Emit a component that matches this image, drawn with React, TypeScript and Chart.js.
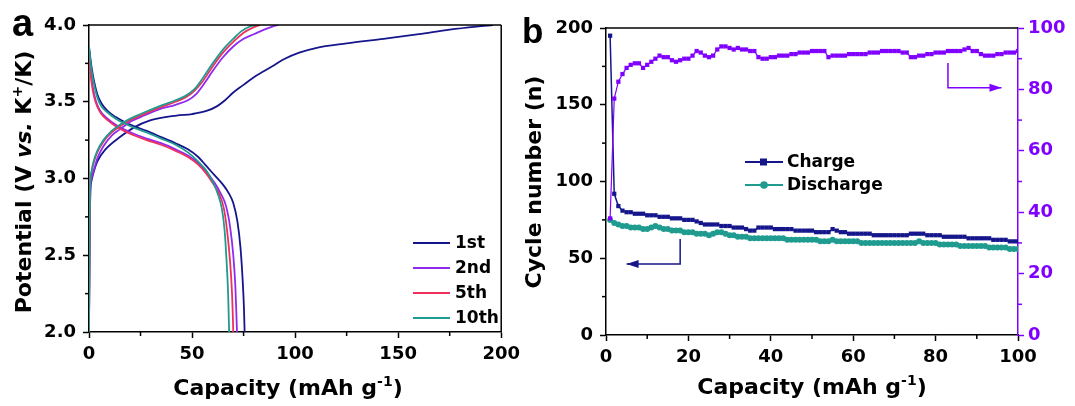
import React, { useEffect, useRef } from "react";
import { Chart, registerables } from "chart.js";
Chart.register(...registerables);

const FONT = '"DejaVu Sans", "Liberation Sans", sans-serif';
const LETTER_FONT = '"Liberation Sans", Arial, sans-serif';
const NAVY = "#16168c";
const VIOLET = "#8f2bf0";
const RED = "#f0305c";
const TEAL = "#1f9b8f";
const PURPLE = "#8000ff";

// ---------- Panel a: voltage profiles (capacity, potential) ----------
const legendA = ["1st", "2nd", "5th", "10th"];
const charge1st: [number, number][] = [[0,2.0],[0.3,2.55],[0.6,2.9],[1,2.97],[2,3.03],[4,3.11],[8,3.19],[15,3.27],[21.5,3.33],[30,3.38],[42.5,3.41],[50,3.42],[57,3.44],[62,3.47],[66,3.51],[70,3.56],[75,3.61],[80,3.66],[85,3.7],[90,3.74],[95,3.78],[102,3.82],[110,3.85],[125,3.88],[143,3.91],[160,3.94],[175,3.97],[188,3.99],[196,4.0]];
const charge2nd: [number, number][] = [[0,2.0],[0.3,2.6],[0.7,2.93],[1.2,3.0],[2.5,3.06],[4,3.13],[7,3.21],[11,3.28],[15,3.32],[20,3.37],[25,3.4],[34,3.45],[42,3.48],[48,3.51],[52,3.55],[56,3.62],[60,3.7],[65,3.79],[70,3.86],[75,3.91],[80,3.94],[85,3.97],[89,3.99],[92,4.0]];
const charge5th: [number, number][] = [[0,2.0],[0.3,2.7],[0.6,2.97],[1,3.02],[2,3.09],[4,3.17],[7,3.24],[11,3.3],[15,3.34],[20,3.38],[25,3.41],[34,3.46],[42,3.5],[47,3.53],[51,3.57],[55,3.63],[60,3.73],[65,3.82],[70,3.89],[75,3.95],[79,3.98],[83,4.0]];
const charge10th: [number, number][] = [[0,2.0],[0.3,2.7],[0.6,2.98],[1,3.03],[2,3.1],[4,3.18],[7,3.25],[11,3.31],[15,3.35],[20,3.39],[25,3.42],[34,3.47],[42,3.51],[47,3.54],[51,3.58],[55,3.65],[60,3.75],[65,3.84],[70,3.91],[74,3.96],[78,3.99],[81,4.0]];
const discharge1st: [number, number][] = [[0,3.86],[0.5,3.8],[1.3,3.72],[2.5,3.63],[4,3.55],[6,3.49],[9,3.44],[13,3.4],[17,3.37],[22,3.34],[28,3.31],[35,3.27],[42,3.23],[48,3.19],[53,3.14],[57,3.08],[61,3.02],[65,2.96],[68,2.9],[70,2.84],[72,2.72],[73.5,2.55],[74.5,2.35],[75.2,2.15],[75.5,2.0]];
const discharge2nd: [number, number][] = [[0,3.84],[0.5,3.75],[1.2,3.65],[2.5,3.55],[4,3.48],[6,3.43],[9,3.39],[13,3.35],[17,3.32],[22,3.29],[28,3.26],[35,3.23],[42,3.19],[48,3.15],[53,3.1],[57,3.04],[61,2.97],[64,2.9],[66.5,2.82],[68.5,2.68],[70,2.5],[71,2.3],[71.5,2.12],[71.8,2.0]];
const discharge5th: [number, number][] = [[0,3.82],[0.5,3.73],[1.2,3.63],[2.5,3.53],[4,3.47],[6,3.42],[9,3.38],[13,3.34],[17,3.31],[22,3.28],[28,3.25],[35,3.22],[42,3.18],[48,3.14],[53,3.09],[57,3.03],[60.5,2.96],[63.5,2.89],[65.5,2.8],[67,2.66],[68.5,2.45],[69.4,2.25],[69.8,2.1],[70,2.0]];
const discharge10th: [number, number][] = [[0,3.86],[0.5,3.79],[1.3,3.7],[2.5,3.61],[4,3.53],[6,3.47],[9,3.43],[13,3.39],[17,3.36],[22,3.33],[28,3.3],[35,3.26],[42,3.22],[48,3.17],[53,3.11],[57,3.05],[60,2.98],[62.5,2.9],[64.5,2.8],[65.8,2.66],[66.8,2.45],[67.5,2.25],[67.8,2.1],[68,2.0]];
const aXTicks = [0, 50, 100, 150, 200];
const aXMinor = [25, 75, 125, 175];
const aYMinor = [2.25, 2.75, 3.25, 3.75];

// ---------- Panel b: cycling ----------
const cycleCount = 100;
const chargeCap = [195,92,84,81,80,80,79,79,79,78,
 78,78,77,77,77,76,76,76,75,75,
 75,74,73,72,72,72,72,71,71,71,
 70,70,70,69,68,68,70,70,70,70,
 69,69,69,69,69,68,68,68,68,68,
 67,67,67,67,69,68,67,67,66,66,
 66,66,66,66,65,65,65,65,65,65,
 65,65,65,66,66,66,66,65,65,65,
 65,64,64,64,64,64,64,63,63,63,
 63,63,63,62,62,62,62,61,61,61];
const dischargeCap = [75,73,72,71,71,70,70,70,69,69,
 70,71,70,69,69,68,68,68,67,67,
 67,66,66,66,65,66,67,67,66,65,
 65,64,64,64,63,63,63,63,63,63,
 63,63,63,62,62,62,62,62,62,62,
 62,61,61,61,62,61,61,61,61,61,
 61,60,60,60,60,60,60,60,60,60,
 60,60,60,60,60,61,60,60,60,60,
 59,59,59,59,59,58,58,58,58,58,
 58,58,57,57,57,57,57,56,56,56];
const efficiency = [38,77,82.5,85,87,88,88.5,88.5,87,88,
 89,90,91,90.5,90.5,89.5,89,89.5,90,90,
 91,92.5,92,91,90.5,91,93,94,94,93.5,
 93,93.5,93,93,92.5,92.5,90.5,90,90,90.5,
 90.5,91,91,91,91.5,91.5,92,92,92,92.5,
 92.5,92.5,92.5,90.5,91,91,91,91,91.5,91.5,
 91.5,91.5,91.5,92,92,92,92.5,92.5,92.5,92.5,
 92.5,92,92,90.5,90.5,91,91,91.5,91.5,92,
 92,92,92.5,92.5,92.5,92.5,93,93.5,92.5,92.5,
 91.5,91,91,91,91.5,91.5,92,92,92,92.5];
const legendB = ["Charge", "Discharge"];
const bXMinor = [10, 30, 50, 70, 90];
const bYMinor = [25, 75, 125, 175];
const bY2Minor = [10, 30, 50, 70, 90];

type Seg = { t: string; it?: boolean; sup?: boolean };

function drawRich(ctx: CanvasRenderingContext2D, segs: Seg[], cx: number, baseline: number, size: number, color: string, rotate: boolean) {
  ctx.save();
  ctx.translate(cx, baseline);
  if (rotate) ctx.rotate(-Math.PI / 2);
  const fontFor = (s: Seg) => `${s.it ? "italic " : ""}bold ${s.sup ? Math.round(size * 0.62) : size}px ${FONT}`;
  let total = 0;
  const widths = segs.map((s) => {
    ctx.font = fontFor(s);
    const w = ctx.measureText(s.t).width;
    total += w;
    return w;
  });
  let x = -total / 2;
  ctx.fillStyle = color;
  ctx.textBaseline = "alphabetic";
  ctx.textAlign = "left";
  segs.forEach((s, i) => {
    ctx.font = fontFor(s);
    ctx.fillText(s.t, x, s.sup ? -size * 0.42 : 0);
    x += widths[i];
  });
  ctx.restore();
}

function tickLine(ctx: CanvasRenderingContext2D, x1: number, y1: number, x2: number, y2: number, color: string, w = 1.5) {
  ctx.strokeStyle = color;
  ctx.lineWidth = w;
  ctx.beginPath();
  ctx.moveTo(x1, y1);
  ctx.lineTo(x2, y2);
  ctx.stroke();
}

const toXY = (arr: [number, number][]) => arr.map(([x, y]) => ({ x, y }));

function axisCommon(color = "#000") {
  return {
    border: { display: true, color, width: 1.5 },
    grid: { drawOnChartArea: false, drawTicks: true, tickLength: 6, tickColor: color, tickWidth: 1.5, color },
    ticks: { color, font: { family: FONT, size: 18, weight: "bold" as const }, autoSkip: false, maxRotation: 0, padding: 6 },
  };
}

const panelAPlugin = {
  id: "panelA",
  afterDraw(chart: any) {
    const { ctx, chartArea: ca, scales } = chart;
    const xs = scales.x, ys = scales.y;
    ctx.save();
    tickLine(ctx, ca.left, ca.top, ca.right, ca.top, "#000");
    tickLine(ctx, ca.right, ca.top, ca.right, ca.bottom, "#000");
    for (const v of aXMinor) {
      const px = xs.getPixelForValue(v);
      tickLine(ctx, px, ca.bottom, px, ca.bottom + 4, "#000");
    }
    for (const v of aYMinor) {
      const py = ys.getPixelForValue(v);
      tickLine(ctx, ca.left - 4, py, ca.left, py, "#000");
    }
    // legend
    const colors = [NAVY, VIOLET, RED, TEAL];
    legendA.forEach((lab, i) => {
      const y = 243 + i * 25;
      tickLine(ctx, 413, y, 450, y, colors[i], 2);
      ctx.fillStyle = "#000";
      ctx.font = `bold 17px ${FONT}`;
      ctx.textBaseline = "middle";
      ctx.textAlign = "left";
      ctx.fillText(lab, 455, y + 1);
    });
    // titles
    drawRich(ctx, [{ t: "Capacity (mAh g" }, { t: "-1", sup: true }, { t: ")" }], 288, 395, 22, "#000", false);
    drawRich(ctx, [{ t: "Potential (V " }, { t: "vs.", it: true }, { t: " K" }, { t: "+", sup: true }, { t: "/K)" }], 31, 182, 22, "#000", true);
    ctx.fillStyle = "#000";
    ctx.font = `bold 38px ${LETTER_FONT}`;
    ctx.textAlign = "left";
    ctx.textBaseline = "alphabetic";
    ctx.fillText("a", 12, 36);
    ctx.restore();
  },
};

function drawArrow(ctx: CanvasRenderingContext2D, pts: number[][], color: string, dir: number) {
  ctx.strokeStyle = color;
  ctx.fillStyle = color;
  ctx.lineWidth = 1.5;
  ctx.beginPath();
  ctx.moveTo(pts[0][0], pts[0][1]);
  for (let i = 1; i < pts.length; i++) ctx.lineTo(pts[i][0], pts[i][1]);
  ctx.stroke();
  const [ex, ey] = pts[pts.length - 1];
  ctx.beginPath();
  ctx.moveTo(ex, ey);
  ctx.lineTo(ex - dir * 12, ey - 4);
  ctx.lineTo(ex - dir * 12, ey + 4);
  ctx.closePath();
  ctx.fill();
}

const panelBPlugin = {
  id: "panelB",
  afterDraw(chart: any) {
    const { ctx, chartArea: ca, scales } = chart;
    const xs = scales.x, ys = scales.y, y2 = scales.y2;
    ctx.save();
    tickLine(ctx, ca.left, ca.top, ca.right, ca.top, "#000");
    for (const v of bXMinor) {
      const px = xs.getPixelForValue(v);
      tickLine(ctx, px, ca.bottom, px, ca.bottom + 4, "#000");
    }
    for (const v of bYMinor) {
      const py = ys.getPixelForValue(v);
      tickLine(ctx, ca.left - 4, py, ca.left, py, "#000");
    }
    for (const v of bY2Minor) {
      const py = y2.getPixelForValue(v);
      tickLine(ctx, ca.right, py, ca.right + 4, py, PURPLE);
    }
    // arrows
    drawArrow(ctx, [[xs.getPixelForValue(83), y2.getPixelForValue(88.6)], [xs.getPixelForValue(83), y2.getPixelForValue(80.5)], [xs.getPixelForValue(96), y2.getPixelForValue(80.5)]], PURPLE, 1);
    drawArrow(ctx, [[xs.getPixelForValue(18), ys.getPixelForValue(62.5)], [xs.getPixelForValue(18), ys.getPixelForValue(46.3)], [xs.getPixelForValue(5), ys.getPixelForValue(46.3)]], NAVY, -1);
    // legend
    const colors = [NAVY, TEAL];
    legendB.forEach((lab, i) => {
      const y = 162 + i * 23;
      tickLine(ctx, 225, y, 263, y, colors[i], 2);
      ctx.fillStyle = colors[i];
      if (i === 0) ctx.fillRect(240, y - 3.5, 7, 7);
      else { ctx.beginPath(); ctx.arc(244, y, 3.8, 0, Math.PI * 2); ctx.fill(); }
      ctx.fillStyle = "#000";
      ctx.font = `bold 17px ${FONT}`;
      ctx.textBaseline = "middle";
      ctx.textAlign = "left";
      ctx.fillText(lab, 267, y + 1);
    });
    drawRich(ctx, [{ t: "Capacity (mAh g" }, { t: "-1", sup: true }, { t: ")" }], 292, 394, 22, "#000", false);
    drawRich(ctx, [{ t: "Cycle number (n)" }], 21, 182, 22, "#000", true);
    ctx.fillStyle = "#000";
    ctx.font = `bold 35px ${LETTER_FONT}`;
    ctx.textAlign = "left";
    ctx.textBaseline = "alphabetic";
    ctx.fillText("b", 2, 43);
    ctx.restore();
  },
};

export default function App() {
  const refA = useRef<HTMLCanvasElement>(null);
  const refB = useRef<HTMLCanvasElement>(null);

  useEffect(() => {
    const lineDs = (label: string, data: [number, number][], color: string) => ({
      label,
      data: toXY(data),
      borderColor: color,
      backgroundColor: color,
      borderWidth: 1.8,
      pointRadius: 0,
      showLine: true,
      cubicInterpolationMode: "monotone" as const,
    });
    const chartA = new Chart(refA.current!, {
      type: "scatter",
      data: {
        datasets: [
          lineDs("10th", charge10th, TEAL),
          lineDs("10th", discharge10th, TEAL),
          lineDs("5th", charge5th, RED),
          lineDs("5th", discharge5th, RED),
          lineDs("2nd", charge2nd, VIOLET),
          lineDs("2nd", discharge2nd, VIOLET),
          lineDs("1st", charge1st, NAVY),
          lineDs("1st", discharge1st, NAVY),
        ],
      },
      options: {
        animation: false,
        responsive: false,
        layout: { padding: { left: 0, top: 25, right: 13, bottom: 0 } },
        plugins: { legend: { display: false }, tooltip: { enabled: false } },
        scales: {
          x: {
            type: "linear",
            min: 0,
            max: 200,
            ...axisCommon(),
            ticks: { ...axisCommon().ticks, stepSize: 50 },
            afterBuildTicks: (s: any) => { s.ticks = aXTicks.map((v) => ({ value: v })); },
            afterFit: (s: any) => { s.height = 74; },
          },
          y: {
            type: "linear",
            min: 2,
            max: 4,
            ...axisCommon(),
            ticks: { ...axisCommon().ticks, stepSize: 0.5, padding: 7, callback: (v: any) => Number(v).toFixed(1) },
            afterFit: (s: any) => { s.width = 89; },
          },
        },
      },
      plugins: [panelAPlugin],
    });

    const cycles = chargeCap.map((_, i) => i + 1).slice(0, cycleCount);
    const chartB = new Chart(refB.current!, {
      type: "line",
      data: {
        datasets: [
          {
            label: "CE",
            data: cycles.map((c, i) => ({ x: c, y: efficiency[i] })),
            yAxisID: "y2",
            borderColor: PURPLE,
            backgroundColor: PURPLE,
            borderWidth: 1.2,
            pointStyle: "rect",
            pointRadius: 3,
            pointBorderWidth: 0,
            order: 0,
          },
          {
            label: legendB[0],
            data: cycles.map((c, i) => ({ x: c, y: chargeCap[i] })),
            yAxisID: "y",
            borderColor: NAVY,
            backgroundColor: NAVY,
            borderWidth: 1.5,
            pointStyle: "rect",
            pointRadius: 3,
            pointBorderWidth: 0,
            order: 1,
          },
          {
            label: legendB[1],
            data: cycles.map((c, i) => ({ x: c, y: dischargeCap[i] })),
            yAxisID: "y",
            borderColor: TEAL,
            backgroundColor: TEAL,
            borderWidth: 1.5,
            pointStyle: "circle",
            pointRadius: 3,
            pointBorderWidth: 0,
            order: 2,
          },
        ],
      },
      options: {
        animation: false,
        responsive: false,
        layout: { padding: { left: 0, top: 28, right: 0, bottom: 0 } },
        plugins: { legend: { display: false }, tooltip: { enabled: false } },
        scales: {
          x: {
            type: "linear",
            min: 0,
            max: 100,
            ...axisCommon(),
            ticks: { ...axisCommon().ticks, stepSize: 20 },
            afterFit: (s: any) => { s.height = 71; },
          },
          y: {
            type: "linear",
            position: "left",
            min: 0,
            max: 200,
            ...axisCommon(),
            ticks: { ...axisCommon().ticks, stepSize: 50, padding: 7 },
            afterFit: (s: any) => { s.width = 86; },
          },
          y2: {
            type: "linear",
            position: "right",
            min: 0,
            max: 100,
            ...axisCommon(PURPLE),
            ticks: { ...axisCommon(PURPLE).ticks, stepSize: 20, padding: 4 },
            afterFit: (s: any) => { s.width = 57; },
          },
        },
      },
      plugins: [panelBPlugin],
    });
    return () => {
      chartA.destroy();
      chartB.destroy();
    };
  }, []);

  return (
    <div style={{ position: "fixed", left: 0, top: 0, width: 1075, height: 406, background: "#fff", overflow: "hidden" }}>
      <canvas ref={refA} width={526} height={406} style={{ position: "absolute", left: 0, top: 0 }} />
      <canvas ref={refB} width={555} height={406} style={{ position: "absolute", left: 520, top: 0 }} />
    </div>
  );
}
